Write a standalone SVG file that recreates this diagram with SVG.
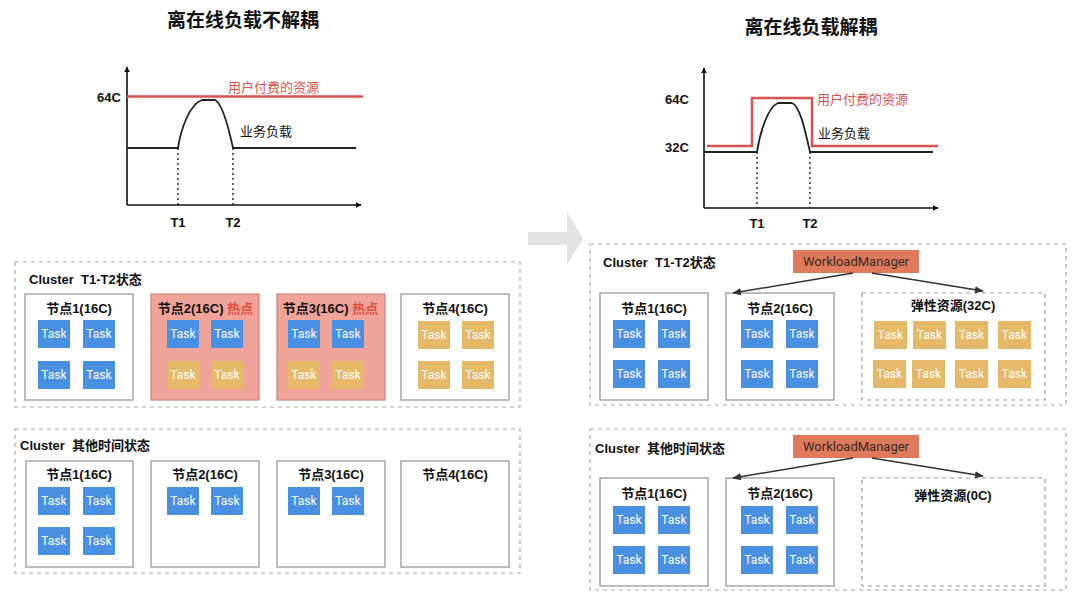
<svg xmlns="http://www.w3.org/2000/svg" width="1080" height="607" viewBox="0 0 1080 607">
<style>
text{font-family:"Liberation Sans","Noto Sans CJK SC",sans-serif;}
.title{font-size:19px;font-weight:bold;fill:#111;text-anchor:middle;dominant-baseline:central;}
.lbl{font-size:13px;font-weight:bold;fill:#111;dominant-baseline:central;}
.red{fill:#d9534f;font-weight:normal;font-size:13px;}
.nt{font-size:13px;font-weight:bold;fill:#111;text-anchor:middle;dominant-baseline:central;}
.hot{fill:#e0503f;}
.cl{fill:none;stroke:#aaa;stroke-width:1.2;stroke-dasharray:4 4;}
.node{fill:#fff;stroke:#999;stroke-width:1.3;}
.hotnode{fill:#f0a398;stroke:#c98a80;stroke-width:1.3;}
.el{fill:#fff;stroke:#999;stroke-width:1.2;stroke-dasharray:4 4;}
.tb{fill:#4a90e2;}
.tt{fill:#e6b968;}
.tx{font-family:Roboto,"Liberation Sans",sans-serif;font-size:12px;fill:#fff;text-anchor:middle;dominant-baseline:central;}
.axis{stroke:#111;stroke-width:1.6;fill:none;}
.load{stroke:#222;stroke-width:1.8;fill:none;}
.pay{stroke:#d9534f;stroke-width:2.5;fill:none;}
.dot{stroke:#111;stroke-width:1.3;stroke-dasharray:2 3;}
.wm{fill:#df7a5c;}
.wmt{font-family:Roboto,"Liberation Sans",sans-serif;font-size:13px;fill:#3a2a22;text-anchor:middle;dominant-baseline:central;}
.conn{stroke:#333;stroke-width:1.5;fill:none;marker-end:url(#ah);}
</style>
<defs>
<marker id="ax" viewBox="0 0 10 10" refX="9" refY="5" markerWidth="6" markerHeight="6" orient="auto" markerUnits="userSpaceOnUse"><path d="M0,0 L10,5 L0,10 z" fill="#111"/></marker>
<marker id="ah" viewBox="0 0 10 10" refX="9" refY="5" markerWidth="9" markerHeight="9" orient="auto" markerUnits="userSpaceOnUse"><path d="M0,1 L10,5 L0,9 z" fill="#333"/></marker>
</defs>
<rect width="1080" height="607" fill="#fff"/>

<!-- Left chart -->
<g id="chart-left">
<text class="title" x="243" y="20">离在线负载不解耦</text>
<line class="axis" x1="127" y1="205" x2="127" y2="67" marker-end="url(#ax)"/>
<line class="axis" x1="127" y1="205" x2="361" y2="205" marker-end="url(#ax)"/>
<text class="lbl" x="97" y="97">64C</text>
<line class="pay" x1="127" y1="96.5" x2="363" y2="96.5"/>
<text class="lbl red" x="228" y="87">用户付费的资源</text>
<path class="load" d="M127,148 L178,148 C181,128 190,104 202,100 L215,100 C222,103 228,125 233,148 L356,148"/>
<text class="lbl" x="240" y="131" style="font-weight:normal">业务负载</text>
<line class="dot" x1="178" y1="148" x2="178" y2="205"/>
<line class="dot" x1="233" y1="148" x2="233" y2="205"/>
<text class="nt" x="178" y="222">T1</text>
<text class="nt" x="233" y="222">T2</text>
</g>

<!-- Right chart -->
<g id="chart-right">
<text class="title" x="811" y="27">离在线负载解耦</text>
<line class="axis" x1="704" y1="208" x2="704" y2="68" marker-end="url(#ax)"/>
<line class="axis" x1="704" y1="208" x2="938" y2="208" marker-end="url(#ax)"/>
<text class="lbl" x="665" y="99">64C</text>
<text class="lbl" x="665" y="147">32C</text>
<path class="pay" d="M707,146 L752,146 L752,98 L812,98 L812,146 L938,146"/>
<text class="lbl red" x="817" y="99">用户付费的资源</text>
<path class="load" d="M704,152 L757,152 C760,132 768,107 778,103 L792,103 C800,106 805,130 810,152 L933,152"/>
<text class="lbl" x="818" y="133" style="font-weight:normal">业务负载</text>
<line class="dot" x1="757" y1="152" x2="757" y2="208"/>
<line class="dot" x1="810" y1="152" x2="810" y2="208"/>
<text class="nt" x="757" y="223">T1</text>
<text class="nt" x="810" y="223">T2</text>
</g>

<!-- big arrow -->
<g id="transition-arrow">
<path d="M528,232 L567,232 L567,212 L583,238.5 L567,265 L567,245 L528,245 z" fill="#e2e2e2"/>
</g>

<!-- Left top cluster -->
<g id="cluster-left-t1t2">
<rect class="cl" x="15" y="262" width="505" height="145"/>
<text class="lbl" x="29" y="279">Cluster&#160;&#160;T1-T2状态</text>
</g>
<g id="lt-node1">
<rect class="node" x="25" y="294" width="108" height="106"/>
<text class="nt" x="79" y="308">节点1(16C)</text>
<rect class="tb" x="38" y="320" width="32" height="28"/><text class="tx" x="54" y="334">Task</text>
<rect class="tb" x="83" y="320" width="32" height="28"/><text class="tx" x="99" y="334">Task</text>
<rect class="tb" x="38" y="361" width="32" height="28"/><text class="tx" x="54" y="375">Task</text>
<rect class="tb" x="83" y="361" width="32" height="28"/><text class="tx" x="99" y="375">Task</text>
</g>
<g id="lt-node2">
<rect class="hotnode" x="151" y="294" width="108" height="106"/>
<text class="nt" x="205.5" y="308">节点2(16C) <tspan class="hot">热点</tspan></text>
<rect class="tb" x="167" y="320" width="32" height="28"/><text class="tx" x="183" y="334">Task</text>
<rect class="tb" x="211" y="320" width="32" height="28"/><text class="tx" x="227" y="334">Task</text>
<rect class="tt" x="167" y="361" width="32" height="28"/><text class="tx" x="183" y="375">Task</text>
<rect class="tt" x="211" y="361" width="32" height="28"/><text class="tx" x="227" y="375">Task</text>
</g>
<g id="lt-node3">
<rect class="hotnode" x="277" y="294" width="108" height="106"/>
<text class="nt" x="330.5" y="308">节点3(16C) <tspan class="hot">热点</tspan></text>
<rect class="tb" x="288" y="320" width="32" height="28"/><text class="tx" x="304" y="334">Task</text>
<rect class="tb" x="332" y="320" width="32" height="28"/><text class="tx" x="348" y="334">Task</text>
<rect class="tt" x="288" y="361" width="32" height="28"/><text class="tx" x="304" y="375">Task</text>
<rect class="tt" x="332" y="361" width="32" height="28"/><text class="tx" x="348" y="375">Task</text>
</g>
<g id="lt-node4">
<rect class="node" x="401" y="294" width="108" height="106"/>
<text class="nt" x="455" y="308">节点4(16C)</text>
<rect class="tt" x="418" y="321" width="32" height="28"/><text class="tx" x="434" y="335">Task</text>
<rect class="tt" x="462" y="321" width="32" height="28"/><text class="tx" x="478" y="335">Task</text>
<rect class="tt" x="418" y="361" width="32" height="28"/><text class="tx" x="434" y="375">Task</text>
<rect class="tt" x="462" y="361" width="32" height="28"/><text class="tx" x="478" y="375">Task</text>
</g>

<!-- Left bottom cluster -->
<g id="cluster-left-other">
<rect class="cl" x="15" y="429" width="505" height="144"/>
<text class="lbl" x="20" y="445">Cluster&#160;&#160;其他时间状态</text>
</g>
<g id="lb-node1">
<rect class="node" x="26" y="461" width="107" height="106"/>
<text class="nt" x="79" y="474">节点1(16C)</text>
<rect class="tb" x="38" y="487" width="32" height="28"/><text class="tx" x="54" y="501">Task</text>
<rect class="tb" x="83" y="487" width="32" height="28"/><text class="tx" x="99" y="501">Task</text>
<rect class="tb" x="38" y="527" width="32" height="28"/><text class="tx" x="54" y="541">Task</text>
<rect class="tb" x="83" y="527" width="32" height="28"/><text class="tx" x="99" y="541">Task</text>
</g>
<g id="lb-node2">
<rect class="node" x="151" y="461" width="108" height="106"/>
<text class="nt" x="205" y="474">节点2(16C)</text>
<rect class="tb" x="167" y="487" width="32" height="28"/><text class="tx" x="183" y="501">Task</text>
<rect class="tb" x="211" y="487" width="32" height="28"/><text class="tx" x="227" y="501">Task</text>
</g>
<g id="lb-node3">
<rect class="node" x="277" y="461" width="108" height="106"/>
<text class="nt" x="331" y="474">节点3(16C)</text>
<rect class="tb" x="288" y="487" width="32" height="28"/><text class="tx" x="304" y="501">Task</text>
<rect class="tb" x="332" y="487" width="32" height="28"/><text class="tx" x="348" y="501">Task</text>
</g>
<g id="lb-node4">
<rect class="node" x="401" y="461" width="108" height="106"/>
<text class="nt" x="455" y="474">节点4(16C)</text>
</g>

<!-- Right top cluster -->
<g id="cluster-right-t1t2">
<rect class="cl" x="590" y="244" width="476" height="161"/>
<text class="lbl" x="603" y="262">Cluster&#160;&#160;T1-T2状态</text>
</g>
<g id="rt-wm">
<rect class="wm" x="793" y="250" width="126" height="23"/>
<text class="wmt" x="856" y="261.5">WorkloadManager</text>
</g>
<g id="rt-node1">
<rect class="node" x="600" y="293" width="108" height="107"/>
<text class="nt" x="654" y="308">节点1(16C)</text>
<rect class="tb" x="613" y="320" width="32" height="28"/><text class="tx" x="629" y="334">Task</text>
<rect class="tb" x="658" y="320" width="32" height="28"/><text class="tx" x="674" y="334">Task</text>
<rect class="tb" x="613" y="360" width="32" height="28"/><text class="tx" x="629" y="374">Task</text>
<rect class="tb" x="658" y="360" width="32" height="28"/><text class="tx" x="674" y="374">Task</text>
</g>
<g id="rt-node2">
<rect class="node" x="726" y="293" width="108" height="107"/>
<text class="nt" x="780" y="308">节点2(16C)</text>
<rect class="tb" x="741" y="320" width="32" height="28"/><text class="tx" x="757" y="334">Task</text>
<rect class="tb" x="786" y="320" width="32" height="28"/><text class="tx" x="802" y="334">Task</text>
<rect class="tb" x="741" y="360" width="32" height="28"/><text class="tx" x="757" y="374">Task</text>
<rect class="tb" x="786" y="360" width="32" height="28"/><text class="tx" x="802" y="374">Task</text>
</g>
<g id="rt-elastic">
<rect class="el" x="862" y="293" width="183" height="107"/>
<text class="nt" x="953" y="305">弹性资源(32C)</text>
<rect class="tt" x="874" y="321" width="33" height="28"/><text class="tx" x="890.5" y="335">Task</text>
<rect class="tt" x="913" y="321" width="33" height="28"/><text class="tx" x="929.5" y="335">Task</text>
<rect class="tt" x="955" y="321" width="33" height="28"/><text class="tx" x="971.5" y="335">Task</text>
<rect class="tt" x="998" y="321" width="33" height="28"/><text class="tx" x="1014.5" y="335">Task</text>
<rect class="tt" x="873" y="360" width="33" height="28"/><text class="tx" x="889.5" y="374">Task</text>
<rect class="tt" x="912" y="360" width="33" height="28"/><text class="tx" x="928.5" y="374">Task</text>
<rect class="tt" x="955" y="360" width="33" height="28"/><text class="tx" x="971.5" y="374">Task</text>
<rect class="tt" x="998" y="360" width="33" height="28"/><text class="tx" x="1014.5" y="374">Task</text>
</g>

<!-- Right bottom cluster -->
<g id="cluster-right-other">
<rect class="cl" x="590" y="429" width="476" height="161"/>
<text class="lbl" x="595" y="448">Cluster&#160;&#160;其他时间状态</text>
</g>
<g id="rb-wm">
<rect class="wm" x="793" y="435" width="126" height="23"/>
<text class="wmt" x="856" y="446.5">WorkloadManager</text>
</g>
<g id="rb-node1">
<rect class="node" x="600" y="478" width="108" height="108"/>
<text class="nt" x="654" y="493">节点1(16C)</text>
<rect class="tb" x="613" y="506" width="32" height="28"/><text class="tx" x="629" y="520">Task</text>
<rect class="tb" x="658" y="506" width="32" height="28"/><text class="tx" x="674" y="520">Task</text>
<rect class="tb" x="613" y="546" width="32" height="28"/><text class="tx" x="629" y="560">Task</text>
<rect class="tb" x="658" y="546" width="32" height="28"/><text class="tx" x="674" y="560">Task</text>
</g>
<g id="rb-node2">
<rect class="node" x="726" y="478" width="108" height="108"/>
<text class="nt" x="780" y="493">节点2(16C)</text>
<rect class="tb" x="741" y="506" width="32" height="28"/><text class="tx" x="757" y="520">Task</text>
<rect class="tb" x="786" y="506" width="32" height="28"/><text class="tx" x="802" y="520">Task</text>
<rect class="tb" x="741" y="546" width="32" height="28"/><text class="tx" x="757" y="560">Task</text>
<rect class="tb" x="786" y="546" width="32" height="28"/><text class="tx" x="802" y="560">Task</text>
</g>
<g id="rb-elastic">
<rect class="el" x="862" y="478" width="183" height="108"/>
<text class="nt" x="953" y="495">弹性资源(0C)</text>
</g>

<!-- connectors -->
<g id="connectors">
<line class="conn" x1="853" y1="273" x2="733" y2="293"/>
<line class="conn" x1="872" y1="273" x2="983" y2="291"/>
<line class="conn" x1="853" y1="458" x2="733" y2="478"/>
<line class="conn" x1="872" y1="458" x2="983" y2="476"/>
</g>
</svg>
